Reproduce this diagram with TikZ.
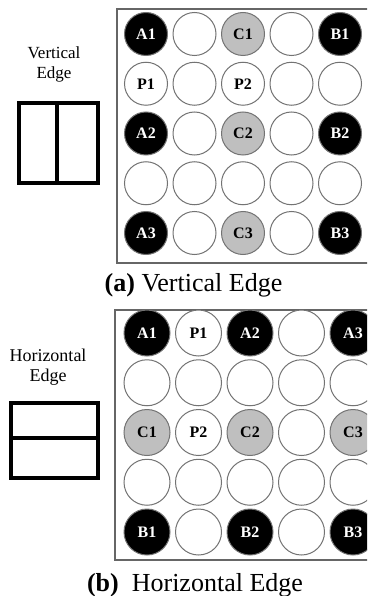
\documentclass[tikz,border=0pt]{standalone}
\usepackage{fontspec}
\setmainfont{Liberation Serif}
\begin{document}
\begin{tikzpicture}[x=1pt,y=-1pt,
	well/.style={circle,draw=black!55,line width=1pt,fill=white,minimum size=43pt,inner sep=0pt,font=\fontsize{16}{16}\selectfont\bfseries},
	blk/.style={well,fill=black,text=white},
	gry/.style={well,fill=black!25},
	frame/.style={draw=black!60,line width=1.5pt},
	edgebox/.style={draw=black,line width=3.5pt},
	side/.style={align=center,inner sep=0pt,anchor=north},
	caption/.style={anchor=base,inner sep=0pt,font=\fontsize{26}{30}\selectfont}]
	\useasboundingbox (0,0) rectangle (367,596);
	\clip (0,0) rectangle (367,596);
	% (a) vertical edge
	\draw[frame] (117,9) rectangle (385,263);
	\foreach \lab/\sty [count=\i from 0] in {A1/blk,/well,C1/gry,/well,B1/blk,
		P1/well,/well,P2/well,/well,/well,
		A2/blk,/well,C2/gry,/well,B2/blk,
		/well,/well,/well,/well,/well,
		A3/blk,/well,C3/gry,/well,B3/blk}
	\node[\sty] (a\i) at ({146+48.5*mod(\i,5)},{34+49.75*floor(\i/5)}) {\lab};
	\node[side,font=\fontsize{17}{20}\selectfont] (vlab) at (54,47) {Vertical\\Edge};
	\draw[edgebox] (19,103) rectangle (98,183) (57,103)--(57,183);
	\node[caption] (acap) at (193.5,291) {\textbf{(a)} Vertical Edge};
	% (b) horizontal edge
	\draw[frame] (115,310) rectangle (385,560);
	\foreach \lab/\sty [count=\i from 0] in {A1/blk,P1/well,A2/blk,/well,A3/blk,
		/well,/well,/well,/well,/well,
		C1/gry,P2/well,C2/gry,/well,C3/gry,
		/well,/well,/well,/well,/well,
		B1/blk,/well,B2/blk,/well,B3/blk}
	\node[\sty,minimum size=46pt] (b\i) at ({147+51.5*mod(\i,5)},{333+49.75*floor(\i/5)}) {\lab};
	\node[side,font=\fontsize{18}{20}\selectfont] (hlab) at (48,349) {Horizontal\\Edge};
	\draw[edgebox] (11,403) rectangle (98,478) (11,438)--(98,438);
	\node[caption] (bcap) at (195,591) {\textbf{(b)}\ \ Horizontal Edge};
\end{tikzpicture}
\end{document}
